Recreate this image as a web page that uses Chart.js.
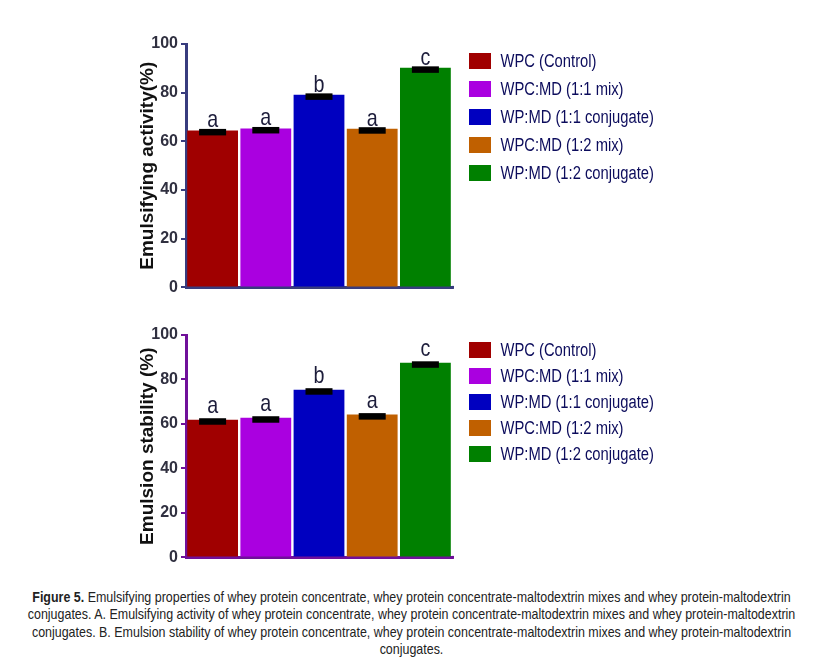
<!DOCTYPE html>
<html>
<head>
<meta charset="utf-8">
<script src="https://cdn.jsdelivr.net/npm/chart.js@4.4.0/dist/chart.umd.min.js"></script>
<style>
html,body{margin:0;padding:0;background:#fff}
body{width:823px;height:658px;position:relative;overflow:hidden}
#cA{position:absolute;left:0;top:0}
#cB{position:absolute;left:0;top:300px}
#caption{position:absolute;left:-91px;top:588px;width:1005px;transform:scaleX(0.83);transform-origin:center top;
  text-align:center;font:15px/17.3px "Liberation Sans",Arial,sans-serif;color:#222}
</style>
</head>
<body>
<canvas id="cA" width="823" height="300"></canvas>
<canvas id="cB" width="823" height="270"></canvas>
<div id="caption"><b>Figure 5.</b> Emulsifying properties of whey protein concentrate, whey protein concentrate-maltodextrin mixes and whey protein-maltodextrin<br>conjugates. A. Emulsifying activity of whey protein concentrate, whey protein concentrate-maltodextrin mixes and whey protein-maltodextrin<br>conjugates. B. Emulsion stability of whey protein concentrate, whey protein concentrate-maltodextrin mixes and whey protein-maltodextrin<br>conjugates.</div>
<script>
// data
const groups = ['WPC (Control)','WPC:MD (1:1 mix)','WP:MD (1:1 conjugate)','WPC:MD (1:2 mix)','WP:MD (1:2 conjugate)']
const barColors = ['#a00000','#aa00e0','#0000c0','#c06000','#008000']
const activity = [64.5, 65.3, 79.1, 65.2, 90.2]
const activityLetters = ['a','a','b','a','c']
const stability = [61.9, 62.8, 75.4, 64.2, 87.5]
const stabilityLetters = ['a','a','b','a','c']
const yTicks = [0, 20, 40, 60, 80, 100]

const SQUEEZE = 0.82

function narrowText(ctx, txt, x, y, align){
  ctx.save()
  ctx.translate(x, y)
  ctx.scale(SQUEEZE, 1)
  ctx.textAlign = align
  ctx.fillText(txt, 0, 0)
  ctx.restore()
}

// error caps, significance letters and the legend
const marks = {
  id:'marks',
  afterDatasetsDraw(chart, args, o){
    const ctx = chart.ctx
    const ys = chart.scales.y
    const vals = chart.data.datasets[0].data
    const area = chart.chartArea
    ctx.save()
    // x axis line runs a little past the last bar
    ctx.fillStyle = o.axisColor
    ctx.fillRect(area.right, area.bottom - 1.5, 2, 3)
    chart.getDatasetMeta(0).data.forEach((bar,i)=>{
      const py = ys.getPixelForValue(vals[i])
      ctx.fillStyle = '#000'
      ctx.fillRect(bar.x - 13.5, py - 1.5, 27, 6.5)
      ctx.fillStyle = '#1c1c3a'
      ctx.font = '24px "Liberation Sans", Arial, sans-serif'
      ctx.textBaseline = 'alphabetic'
      narrowText(ctx, o.letters[i], bar.x, py - o.letterGap, 'center')
    })
    ctx.font = '18px "Liberation Sans", Arial, sans-serif'
    ctx.textBaseline = 'middle'
    groups.forEach((g,i)=>{
      const cy = area.top + o.legTop + i*o.legStep
      ctx.fillStyle = barColors[i]
      ctx.fillRect(469, cy - 8, 22, 16)
      ctx.fillStyle = '#0c0c5c'
      narrowText(ctx, g, 500.5, cy + 1, 'left')
    })
    ctx.restore()
  }
}

function makeChart(id, values, letters, title, axisColor, pad, extra){
  return new Chart(document.getElementById(id), {
    type:'bar',
    data:{
      labels: groups,
      datasets:[{data: values, backgroundColor: barColors, borderWidth:0, barPercentage:0.955, categoryPercentage:1}]
    },
    options:{
      responsive:false,
      animation:false,
      devicePixelRatio:1,
      layout:{padding: pad},
      plugins:{legend:{display:false}, tooltip:{enabled:false}, marks: Object.assign({letters, axisColor}, extra)},
      scales:{
        x:{
          grid:{display:false},
          ticks:{display:false},
          border:{color: axisColor, width:3},
          afterFit(s){ s.height = 0 }
        },
        y:{
          min:0, max:100,
          afterBuildTicks(s){ s.ticks = yTicks.map(v=>({value:v})) },
          afterFit(s){ s.width = 56 },
          grid:{drawOnChartArea:false, drawTicks:true, tickLength:5, color: axisColor, lineWidth:2},
          border:{color: axisColor, width:3},
          ticks:{padding:3, color:'#303040', font:{family:'"Liberation Sans Narrow", "Liberation Sans", Arial, sans-serif', size:16, weight:'bold'}},
          title:{display:true, text:title, color:'#111', padding:{top:6, bottom:0},
            font:{family:'"Liberation Sans", Arial, sans-serif', size:19, weight:'bold'}}
        }
      }
    },
    plugins:[marks]
  })
}

makeChart('cA', activity, activityLetters, 'Emulsifying activity(%)', '#383c7e',
  {left:130, right:371, top:44, bottom:12}, {letterGap:3, legTop:17, legStep:28})
makeChart('cB', stability, stabilityLetters, 'Emulsion stability (%)', '#70109a',
  {left:130, right:371, top:35, bottom:12}, {letterGap:7, legTop:15, legStep:26})
</script>
</body>
</html>
